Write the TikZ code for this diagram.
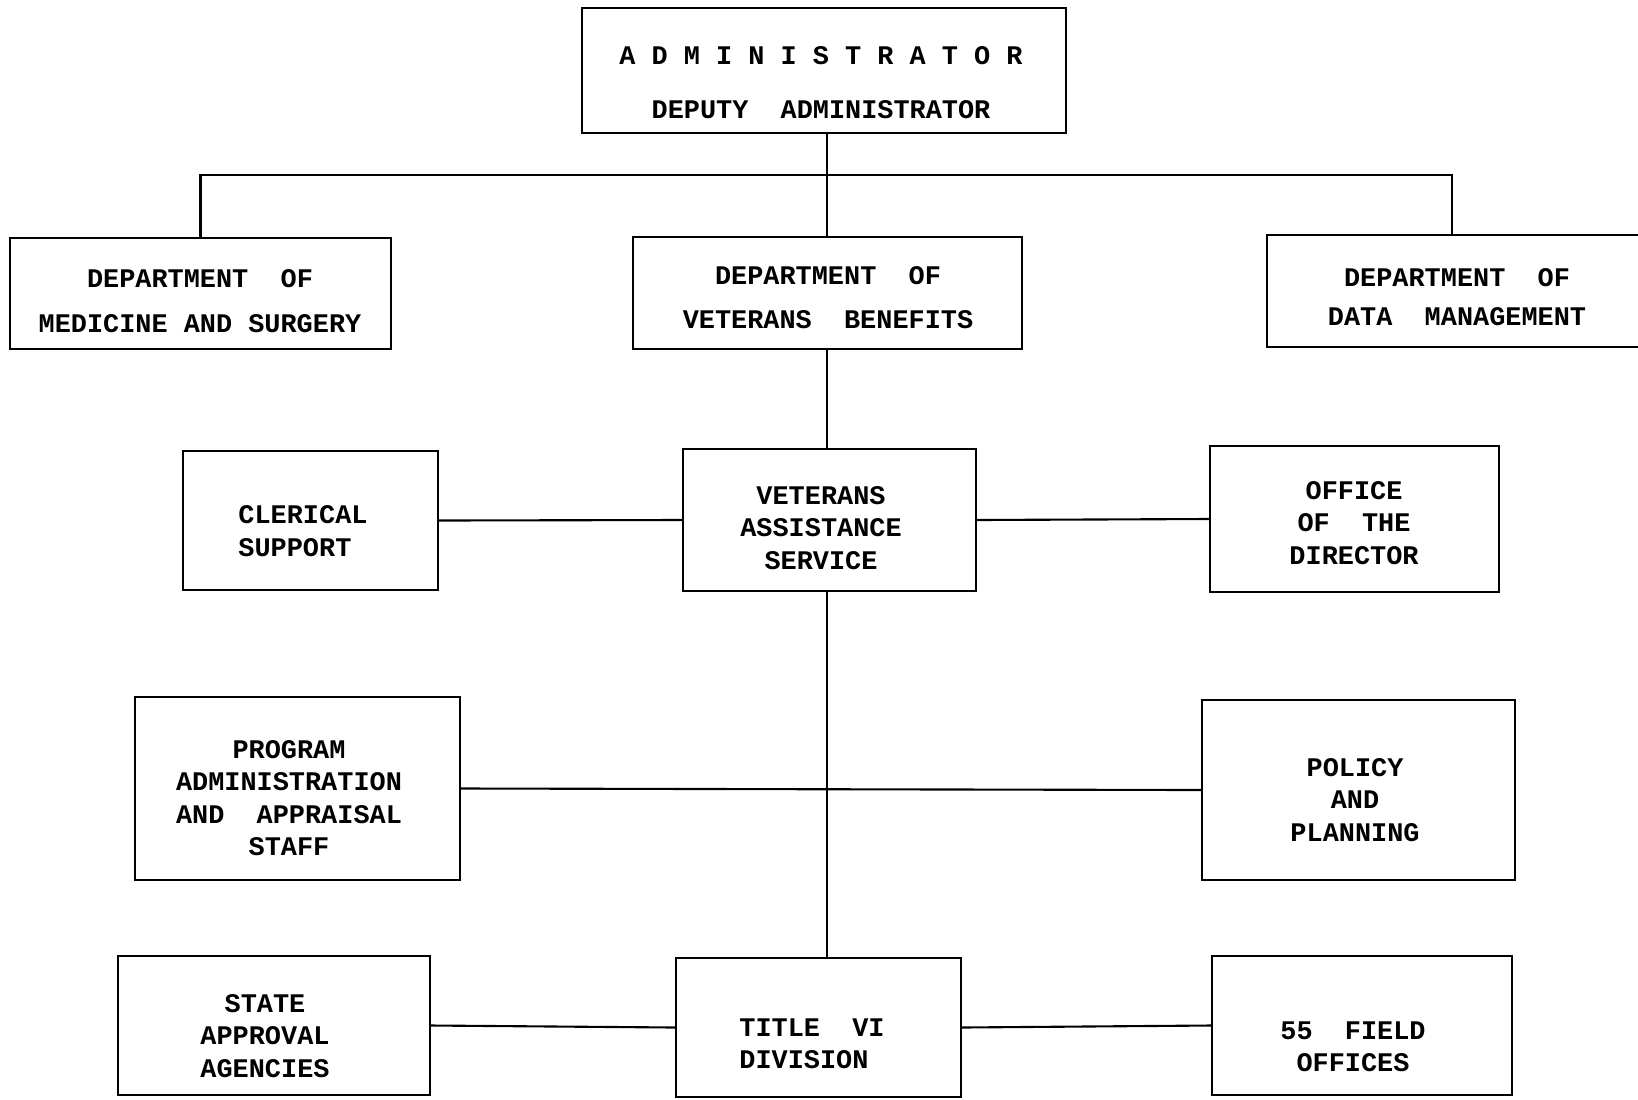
\documentclass[tikz,border=0pt]{standalone}
\usepackage{fontspec}
\setmonofont{Liberation Mono}
\usetikzlibrary{calc}

\begin{document}
\begin{tikzpicture}[
  x=0.02cm, y=-0.02cm,
  unit/.style={draw=black, line width=1.2pt, rectangle, inner sep=0pt},
  txt/.style={align=center, inner sep=0pt,
              font=\ttfamily\bfseries\fontsize{15.3}{18.4}\selectfont},
  link/.style={draw=black, line width=1.2pt},
]
\path[use as bounding box, clip] (0,0) rectangle (1638,1099);

% ---- Top level ----
\node[unit, minimum width=9.68cm, minimum height=2.5cm] (admin) at (824,70.5) {};
\node[txt] (tadmin) at (821,82.5)
  {A D M I N I S T R A T O R\\[12.5pt]DEPUTY\ \ ADMINISTRATOR};

% ---- Departments ----
\node[unit, minimum width=7.62cm, minimum height=2.22cm] (med)  at (200.5,293.5) {};
\node[unit, minimum width=7.78cm, minimum height=2.24cm] (vet)  at (827.5,293) {};
\node[unit, minimum width=7.86cm, minimum height=2.24cm] (data) at (1463,291) {};
\node[txt] (tmed)  at (200,301) {DEPARTMENT\ \ OF\\[7pt]MEDICINE AND SURGERY};
\node[txt] (tvet)  at (828,298) {DEPARTMENT\ \ OF\\[6.5pt]VETERANS\ \ BENEFITS};
\node[txt] (tdata) at (1457,297) {DEPARTMENT\ \ OF\\[3.5pt]DATA\ \ MANAGEMENT};

% ---- Service level ----
\node[unit, minimum width=5.1cm,  minimum height=2.78cm] (cler) at (310.5,520.5) {};
\node[unit, minimum width=5.86cm, minimum height=2.84cm] (vas)  at (829.5,520) {};
\node[unit, minimum width=5.78cm, minimum height=2.92cm] (dir)  at (1354.5,519) {};
\node[txt, align=left] (tcler) at (303,531) {CLERICAL\\SUPPORT};
\node[txt] (tvas) at (821,528) {VETERANS\\ASSISTANCE\\SERVICE};
\node[txt] (tdir) at (1354,523) {OFFICE\\OF\ \ THE\\DIRECTOR};

% ---- Staff ----
\node[unit, minimum width=6.5cm,  minimum height=3.66cm] (prog) at (297.5,788.5) {};
\node[unit, minimum width=6.26cm, minimum height=3.6cm]  (pol)  at (1358.5,790) {};
\node[txt] (tprog) at (289,798) {PROGRAM\\ADMINISTRATION\\AND\ \ APPRAISAL\\STAFF};
\node[txt] (tpol)  at (1355,800) {POLICY\\AND\\PLANNING};

% ---- Bottom row ----
\node[unit, minimum width=6.24cm, minimum height=2.78cm] (state) at (274,1025.5) {};
\node[unit, minimum width=5.7cm,  minimum height=2.78cm] (title) at (818.5,1027.5) {};
\node[unit, minimum width=6.0cm,  minimum height=2.78cm] (field) at (1362,1025.5) {};
\node[txt] (tstate) at (265,1036) {STATE\\APPROVAL\\AGENCIES};
\node[txt, align=left] (ttitle) at (812,1044) {TITLE\ \ VI\\DIVISION};
\node[txt] (tfield) at (1353,1047) {55\ \ FIELD\\OFFICES};

% ---- Connectors ----
\coordinate (bus)   at (827,175);
\coordinate (dropr) at (1452,175);
\draw[link] (admin.south -| bus) -- (bus);
\draw[link] (med.north) |- (bus) -- (dropr) -- (dropr |- data.north);
\draw[link] (bus) -- (bus |- vet.north);
\draw[link] (vet.south -| bus) -- (bus |- vas.north);
\draw[link] (cler.east) -- (vas.west);
\draw[link] (vas.east) -- (dir.west);
\draw[link] (vas.south -| bus) -- (bus |- title.north);
\draw[link] (prog.east) -- (pol.west);
\draw[link] (state.east) -- (title.west);
\draw[link] (title.east) -- (field.west);
\end{tikzpicture}
\end{document}
